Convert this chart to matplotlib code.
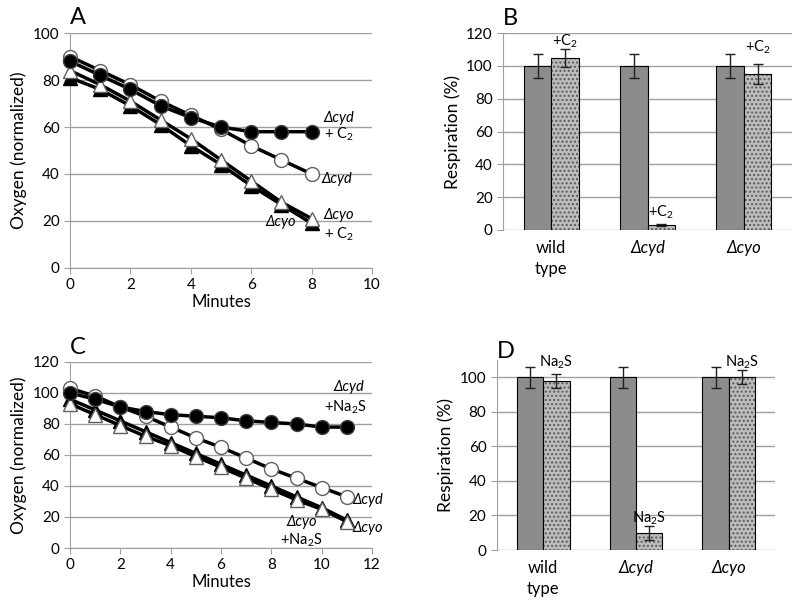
import matplotlib
matplotlib.use("Agg")
import matplotlib.pyplot as plt
import numpy as np

plt.rcParams['font.family'] = ['Lato', 'DejaVu Sans']
plt.rcParams['mathtext.fontset'] = 'custom'
plt.rcParams['mathtext.rm'] = 'Lato'
plt.rcParams['mathtext.it'] = 'Lato:italic'

# panel A: oxygen traces (C2 treatment)
minutes_a = [0, 1, 2, 3, 4, 5, 6, 7, 8]
cyd_a = [90, 84, 78, 71, 65, 59, 52, 46, 40]
cyd_c2_a = [88, 82, 76, 69, 64, 60, 58, 58, 58]
cyo_a = [84, 78, 71, 63, 55, 46, 37, 28, 21]
cyo_c2_a = [81, 76, 69, 61, 52, 44, 35, 27, 19]

# panel C: oxygen traces (Na2S treatment)
minutes_c = [0, 1, 2, 3, 4, 5, 6, 7, 8, 9, 10, 11]
cyd_c = [103, 98, 91, 85, 78, 71, 65, 58, 51, 45, 39, 33]
cyd_na_c = [100, 96, 91, 88, 86, 85, 84, 82, 81, 80, 78, 78]
cyo_c = [93, 86, 79, 72, 66, 59, 52, 45, 38, 31, 25, 17]
cyo_na_c = [96, 89, 82, 75, 68, 61, 54, 47, 40, 33, 26, 18]

# panels B and D: respiration
strains = ['wild\ntype', 'Δcyd', 'Δcyo']
ctrl_b = [100, 100, 100]
ctrl_b_err = [7.5, 7.5, 7.5]
c2_b = [105, 3, 95]
c2_b_err = [5.5, 0.5, 6]
ctrl_d = [100, 100, 100]
ctrl_d_err = [6, 6, 6]
na_d = [98, 10, 100]
na_d_err = [4, 4, 4]

fig = plt.figure(figsize=(8, 6.06), dpi=100)
axA = fig.add_axes([0.0875, 0.5578, 0.3775, 0.3877])
axB = fig.add_axes([0.629, 0.6205, 0.361, 0.325])
axC = fig.add_axes([0.0875, 0.0957, 0.3775, 0.307])
axD = fig.add_axes([0.621, 0.0924, 0.348, 0.3135])

grid_col = '#a0a0a0'


def style_axes(ax):
    ax.spines['top'].set_visible(False)
    ax.spines['right'].set_visible(False)
    ax.spines['left'].set_color(grid_col)
    ax.spines['bottom'].set_color(grid_col)
    ax.yaxis.grid(True, color=grid_col, lw=1)
    ax.set_axisbelow(True)
    ax.tick_params(colors=grid_col, labelcolor='black', labelsize=11, length=4)


def draw_lines(ax, x, cyo_t, cyo, cyd, cyd_t):
    ax.plot(x, cyo_t, color='black', lw=2.5, marker='^', ms=10,
            mfc='black', mec='black', clip_on=False, zorder=3)
    ax.plot(x, cyo, color='black', lw=2.5, marker='^', ms=10,
            mfc='white', mec='#606060', clip_on=False, zorder=4)
    ax.plot(x, cyd, color='black', lw=2.5, marker='o', ms=10,
            mfc='white', mec='#606060', clip_on=False, zorder=5)
    ax.plot(x, cyd_t, color='black', lw=2.5, marker='o', ms=10,
            mfc='black', mec='#404040', clip_on=False, zorder=6)


# A
style_axes(axA)
draw_lines(axA, minutes_a, cyo_c2_a, cyo_a, cyd_a, cyd_c2_a)
axA.set_xlim(0, 10)
axA.set_ylim(0, 100)
axA.set_xticks(range(0, 11, 2))
axA.set_yticks(range(0, 101, 20))
axA.set_xlabel('Minutes', fontsize=12, labelpad=1)
axA.set_ylabel('Oxygen (normalized)', fontsize=12.5)
axA.text(8.9, 64, 'Δcyd', style='italic', fontsize=10.5, ha='center', va='center')
axA.text(8.9, 57, '+ C$_2$', fontsize=10.5, ha='center', va='center')
axA.text(8.85, 38, 'Δcyd', style='italic', fontsize=10.5, ha='center', va='center')
axA.text(8.9, 22.5, 'Δcyo', style='italic', fontsize=10.5, ha='center', va='center')
axA.text(8.9, 14.5, '+ C$_2$', fontsize=10.5, ha='center', va='center')
axA.text(6.98, 19.6, 'Δcyo', style='italic', fontsize=10.5, ha='center', va='center')
axA.text(0.0, 1.02, 'A', transform=axA.transAxes, fontsize=17, va='bottom')

# C
style_axes(axC)
draw_lines(axC, minutes_c, cyo_na_c, cyo_c, cyd_c, cyd_na_c)
axC.set_xlim(0, 12)
axC.set_ylim(0, 120)
axC.set_xticks(range(0, 13, 2))
axC.set_yticks(range(0, 121, 20))
axC.set_xlabel('Minutes', fontsize=12, labelpad=1)
axC.set_ylabel('Oxygen (normalized)', fontsize=12.5)
axC.text(11.1, 104, 'Δcyd', style='italic', fontsize=10.5, ha='center', va='center')
axC.text(10.95, 91, '+Na$_2$S', fontsize=10.5, ha='center', va='center')
axC.text(11.85, 31, 'Δcyd', style='italic', fontsize=10.5, ha='center', va='center')
axC.text(11.85, 13, 'Δcyo', style='italic', fontsize=10.5, ha='center', va='center')
axC.text(9.2, 17, 'Δcyo', style='italic', fontsize=10.5, ha='center', va='center')
axC.text(9.2, 5, '+Na$_2$S', fontsize=10.5, ha='center', va='center')
axC.text(0.0, 1.02, 'C', transform=axC.transAxes, fontsize=17, va='bottom')


def draw_bars(ax, ctrl, ctrl_err, treat, treat_err, label, label_y):
    pos = np.arange(len(strains))
    w = 0.285
    ax.bar(pos - w / 2, ctrl, w, color='#8c8c8c', edgecolor='black', lw=0.8,
           yerr=ctrl_err, capsize=3.5, error_kw=dict(lw=1, capthick=1, ecolor='#202020'),
           zorder=2)
    # speckled look for treated bars
    ax.bar(pos + w / 2, treat, w, color='#bcbcbc', edgecolor='#5a5a5a', lw=0,
           hatch='....', zorder=2)
    ax.bar(pos + w / 2, treat, w, color='none', edgecolor='black', lw=0.8,
           yerr=treat_err, capsize=3.5, error_kw=dict(lw=1, capthick=1, ecolor='#202020'),
           zorder=3)
    for p, y in zip(pos, label_y):
        ax.text(p + w / 2, y, label, fontsize=10.5, ha='center', va='center')
    ax.set_xlim(-0.5, 2.5)
    ax.set_xticks(pos)
    ax.set_xticklabels(strains, fontsize=12, linespacing=1.4)
    for t in ax.get_xticklabels()[1:]:
        t.set_style('italic')
    ax.tick_params(axis='x', length=0, pad=7)
    ax.spines['bottom'].set_visible(False)
    ax.set_ylabel('Respiration (%)', fontsize=12.5)


# B
style_axes(axB)
draw_bars(axB, ctrl_b, ctrl_b_err, c2_b, c2_b_err, '+C$_2$', [115, 11, 111])
axB.set_ylim(0, 120)
axB.set_yticks(range(0, 121, 20))
axB.text(0.0, 1.02, 'B', transform=axB.transAxes, fontsize=17, va='bottom')

# D
style_axes(axD)
draw_bars(axD, ctrl_d, ctrl_d_err, na_d, na_d_err, 'Na$_2$S', [108.5, 18.5, 108.5])
axD.set_ylim(0, 110)
axD.set_yticks(range(0, 101, 20))
axD.text(0.0, 0.99, 'D', transform=axD.transAxes, fontsize=17, va='bottom')

fig.savefig('out.png', dpi=100)
